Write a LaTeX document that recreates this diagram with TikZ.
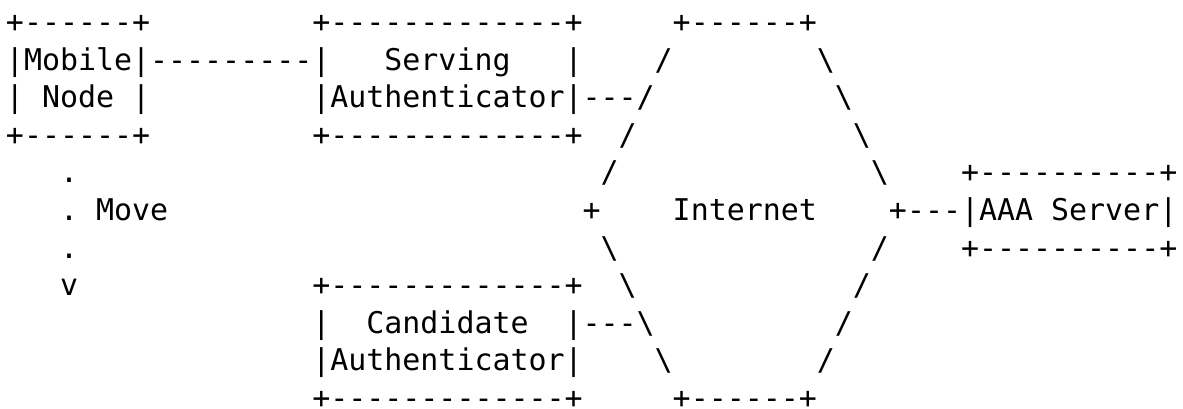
\documentclass[tikz,border=0pt]{standalone}
\usepackage{fontspec}
\setmonofont{DejaVu Sans Mono}
\newcommand\bs{\textbackslash}
\begin{document}
\begin{tikzpicture}[x=0.75pt,y=-0.75pt,
  seg/.style={anchor=base west,inner sep=0pt,outer sep=0pt,
    font=\ttfamily\fontsize{22.45}{28}\selectfont,text=black}]
\useasboundingbox (0,0) rectangle (1183,409);
% character cell grid: column width 18.02, row pitch 37.6
\newcommand\seg[4]{\node[seg] (#1) at ({6+18.02*#2},{32.5+37.6*#3}) {#4};}
% row 0
\seg{mnTop}{0}{0}{+------+}
\seg{saTop}{17}{0}{+-------------+}
\seg{netTop}{37}{0}{+------+}
% row 1
\seg{mnA}{0}{1}{|Mobile|}
\seg{mnLink}{8}{1}{---------}
\seg{saA}{17}{1}{|}
\seg{saName}{21}{1}{Serving}
\seg{saB}{31}{1}{|}
\seg{netL1}{36}{1}{/}
\seg{netR1}{45}{1}{\bs}
% row 2
\seg{mnB}{0}{2}{|}
\seg{mnName}{2}{2}{Node}
\seg{mnC}{7}{2}{|}
\seg{saC}{17}{2}{|Authenticator|}
\seg{saLink}{32}{2}{---/}
\seg{netR2}{46}{2}{\bs}
% row 3
\seg{mnBot}{0}{3}{+------+}
\seg{saBot}{17}{3}{+-------------+}
\seg{netL3}{34}{3}{/}
\seg{netR3}{47}{3}{\bs}
% row 4
\seg{mvA}{3}{4}{.}
\seg{netL4}{33}{4}{/}
\seg{netR4}{48}{4}{\bs}
\seg{aaaTop}{53}{4}{+----------+}
% row 5
\seg{mvB}{3}{5}{.}
\seg{mvLabel}{5}{5}{Move}
\seg{netL5}{32}{5}{+}
\seg{netName}{37}{5}{Internet}
\seg{netR5}{49}{5}{+---}
\seg{aaaA}{53}{5}{|AAA}
\seg{aaaB}{58}{5}{Server|}
% row 6
\seg{mvC}{3}{6}{.}
\seg{netL6}{33}{6}{\bs}
\seg{netR6}{48}{6}{/}
\seg{aaaBot}{53}{6}{+----------+}
% row 7
\seg{mvHead}{3}{7}{v}
\seg{caTop}{17}{7}{+-------------+}
\seg{netL7}{34}{7}{\bs}
\seg{netR7}{47}{7}{/}
% row 8
\seg{caA}{17}{8}{|}
\seg{caName}{20}{8}{Candidate}
\seg{caB}{31}{8}{|}
\seg{caLink}{32}{8}{---\bs}
\seg{netR8}{46}{8}{/}
% row 9
\seg{caC}{17}{9}{|Authenticator|}
\seg{netL9}{36}{9}{\bs}
\seg{netR9}{45}{9}{/}
% row 10
\seg{caBot}{17}{10}{+-------------+}
\seg{netBot}{37}{10}{+------+}
\end{tikzpicture}
\end{document}
